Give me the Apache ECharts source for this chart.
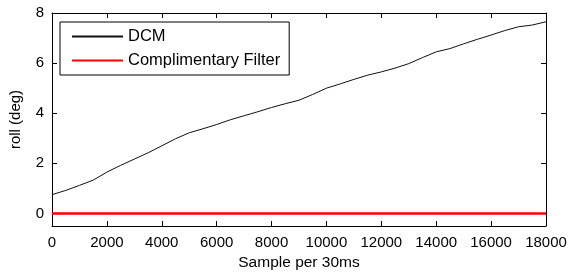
<!DOCTYPE html>
<html>
<head>
<meta charset="utf-8">
<script src="https://cdn.jsdelivr.net/npm/echarts@6/dist/echarts.min.js"></script>
<style>
  html, body { margin: 0; padding: 0; background: #fff; }
  #chart { width: 571px; height: 279px; }
</style>
</head>
<body>
<div id="chart"></div>
<script>
// samples (x) and roll readings
const samples = [0, 500, 1000, 1500, 2000, 2500, 3000, 3500, 4000, 4500, 5000, 5500, 6000, 6500, 7000, 7500, 8000, 8500, 9000,
  9500, 10000, 10500, 11000, 11500, 12000, 12500, 13000, 13500, 14000, 14500, 15000, 15500, 16000, 16500, 17000, 17500, 18000]
const dcm = [0.75, 0.92, 1.12, 1.33, 1.65, 1.92, 2.17, 2.42, 2.7, 2.98, 3.22, 3.38, 3.55, 3.74, 3.9, 4.06, 4.23, 4.38, 4.52,
  4.75, 5.0, 5.17, 5.35, 5.52, 5.65, 5.8, 5.98, 6.22, 6.45, 6.58, 6.77, 6.95, 7.12, 7.3, 7.45, 7.52, 7.65]
const compFilter = [0, 0, 0, 0, 0, 0, 0, 0, 0, 0, 0, 0, 0, 0, 0, 0, 0, 0, 0,
  0, 0, 0, 0, 0, 0, 0, 0, 0, 0, 0, 0, 0, 0, 0, 0, 0, 0]
const xTicks = [0, 2000, 4000, 6000, 8000, 10000, 12000, 14000, 16000, 18000]
const yTicks = [0, 2, 4, 6, 8]

const chart = echarts.init(document.getElementById("chart"))

const font = "Liberation Sans, Arial, sans-serif"
const axisBase = {
  axisLine: { show: true, onZero: false, lineStyle: { color: "#000", width: 1 } },
  splitLine: { show: false },
}
const tick = (vals) => ({ show: true, inside: true, length: 5, lineStyle: { color: "#000" }, customValues: vals })

const option = {
  animation: false,
  backgroundColor: "#fff",
  grid: { left: 52, right: 25, top: 13, bottom: 53 },
  legend: {
    orient: "vertical",
    left: 60,
    top: 22,
    padding: [6, 9, 6, 11],
    itemGap: 7,
    itemWidth: 51,
    itemHeight: 14,
    backgroundColor: "#fff",
    borderColor: "#000",
    borderWidth: 1,
    borderRadius: 0,
    itemStyle: { opacity: 0 },
    textStyle: { fontFamily: font, fontSize: 16.5, color: "#000" },
    data: ["DCM", "Complimentary Filter"],
  },
  xAxis: [
    {
      ...axisBase,
      type: "value",
      min: 0,
      max: 18000,
      interval: 2000,
      name: "Sample per 30ms",
      nameLocation: "middle",
      nameGap: 28,
      nameTextStyle: { fontFamily: font, fontSize: 15.5, color: "#000" },
      axisTick: tick(xTicks),
      axisLabel: { fontFamily: font, fontSize: 15, color: "#000", margin: 9, customValues: xTicks, formatter: (v) => String(v) },
    },
    {
      ...axisBase,
      type: "value",
      position: "top",
      min: 0,
      max: 18000,
      interval: 2000,
      axisTick: tick(xTicks),
      axisLabel: { show: false },
    },
  ],
  yAxis: [
    {
      ...axisBase,
      type: "value",
      min: -0.5,
      max: 8,
      name: "roll (deg)",
      nameLocation: "middle",
      nameGap: 29,
      nameTextStyle: { fontFamily: font, fontSize: 15, color: "#000" },
      axisTick: tick(yTicks),
      axisLabel: { fontFamily: font, fontSize: 15, color: "#000", margin: 8, customValues: yTicks, formatter: (v) => String(v) },
    },
    {
      ...axisBase,
      type: "value",
      position: "right",
      min: -0.5,
      max: 8,
      axisTick: tick(yTicks),
      axisLabel: { show: false },
    },
  ],
  series: [
    {
      name: "DCM",
      type: "line",
      data: samples.map((s, i) => [s, dcm[i]]),
      symbol: "none",
      lineStyle: { color: "#111", width: 1 },
      itemStyle: { color: "#000" },
      z: 3,
    },
    {
      name: "Complimentary Filter",
      type: "line",
      data: samples.map((s, i) => [s, compFilter[i]]),
      symbol: "none",
      lineStyle: { color: "#ff0000", width: 2.5 },
      itemStyle: { color: "#ff0000" },
      z: 4,
    },
  ],
}

chart.setOption(option)
</script>
</body>
</html>
